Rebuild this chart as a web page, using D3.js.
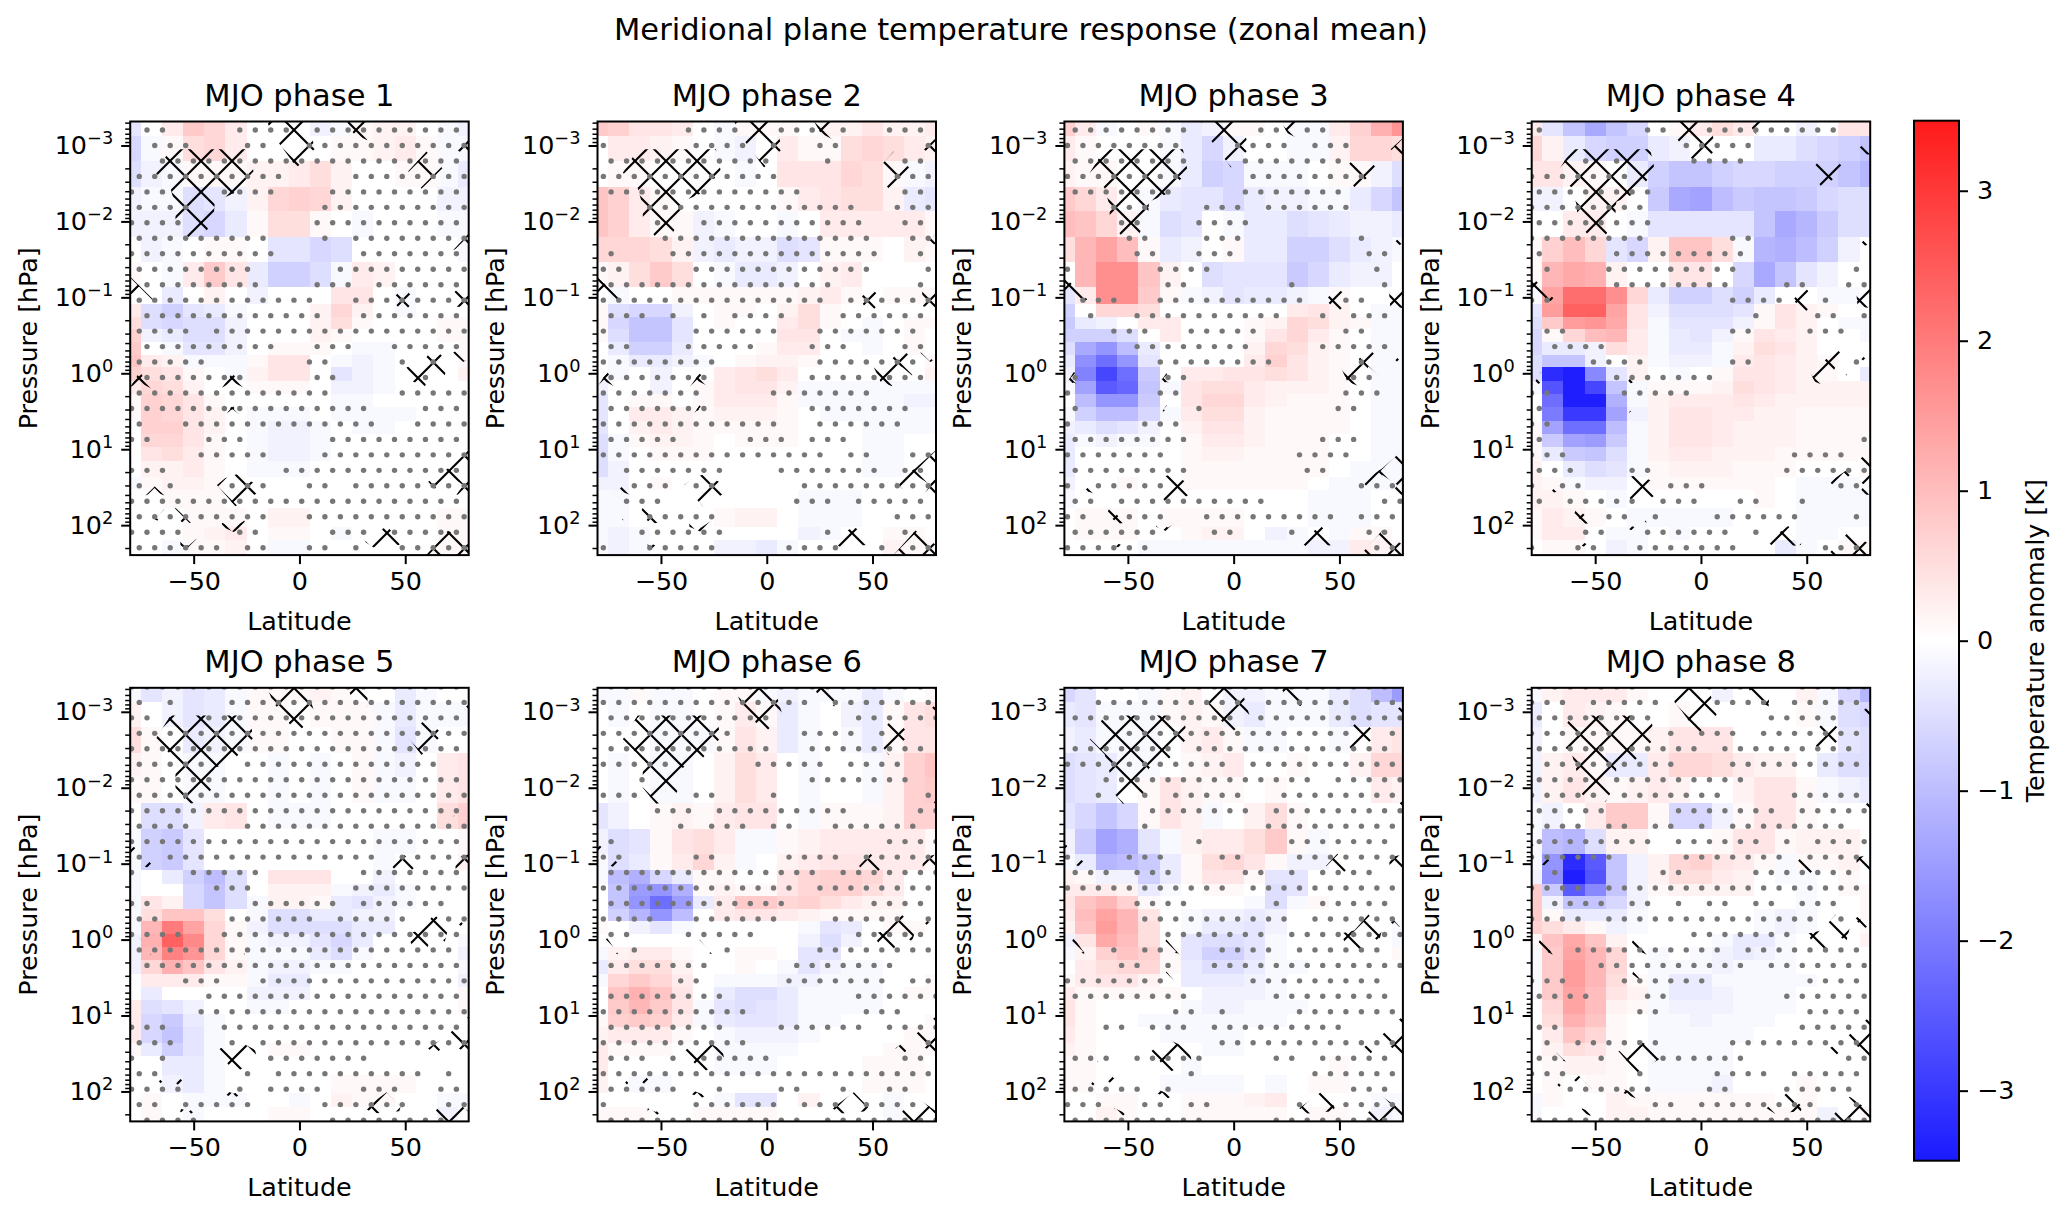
<!DOCTYPE html>
<html><head><meta charset="utf-8">
<script src="https://cdnjs.cloudflare.com/ajax/libs/d3/7.8.5/d3.min.js"></script>
<style>html,body{margin:0;background:#fff}svg{display:block}text{font-family:"DejaVu Sans";fill:#000}</style>
</head><body><svg id="c" width="2067" height="1213"></svg>
<script>
const phaseTitles=["MJO phase 1","MJO phase 2","MJO phase 3","MJO phase 4","MJO phase 5","MJO phase 6","MJO phase 7","MJO phase 8"];
const latEdges=[-80,-75,-65,-55,-45,-35,-25,-15,-5,5,15,25,35,45,55,65,75,80];
const pressureEdges=[4.83e-4,7.4e-4,1.58e-3,3.47e-3,7.26e-3,0.0158,0.0345,0.0736,0.122,0.183,0.264,0.391,0.574,0.836,1.25,1.87,2.81,4.22,6.31,9.46,14.2,23.1,34.6,60.3,105,158,248];
const majorP=[1e-3,1e-2,1e-1,1,10,100];
const latTicks=[-50,0,50];
const cbarTicks=[-3,-2,-1,0,1,2,3];
// temperature anomaly in tenths of a kelvin: rows top to bottom, columns south to north
const phase1=[
[-4,0,3,8,6,3,0,0,0,-2,-1,1,2,2,0,-1,-2],
[-6,-1,1,5,6,3,0,0,0,0,1,1,2,3,1,-1,-1],
[-5,-2,-1,1,1,1,2,2,3,5,2,0,0,1,1,-1,-3],
[-2,-1,-1,-5,-4,-2,2,6,7,6,2,0,0,0,0,-2,-2],
[-2,-2,-2,-5,-6,-3,1,5,5,1,0,-1,0,0,0,-1,-1],
[0,-2,-1,0,1,1,0,-4,-4,-6,-5,0,0,0,0,0,-1],
[1,0,-1,3,8,4,-3,-7,-7,-5,-1,3,2,0,0,0,0],
[0,0,-3,0,2,0,-2,0,0,0,4,4,0,-1,0,0,0],
[3,-5,-7,-4,-3,-1,0,0,0,2,6,2,0,-1,0,0,0],
[5,-5,-6,-5,-5,-2,0,0,0,2,5,1,0,0,0,1,1],
[7,-2,-3,-5,-5,-2,0,0,0,2,1,0,0,0,0,1,1],
[8,0,-1,-4,-4,-2,0,1,1,1,0,-1,-1,0,0,0,1],
[9,3,2,-1,-1,-1,1,4,4,0,-1,-2,-1,0,0,0,1],
[7,5,4,1,0,-1,2,4,4,0,-4,-2,-1,0,0,0,2],
[3,6,5,2,0,0,1,1,1,0,-2,-2,-1,0,0,0,0],
[1,7,6,4,1,0,0,0,0,0,-1,-1,0,0,0,0,0],
[1,7,6,4,2,0,-1,-1,-1,0,-1,-1,-1,-1,0,0,0],
[0,7,7,4,2,0,-1,-2,-2,-1,0,-1,-1,0,0,0,0],
[0,6,6,4,1,0,-1,-2,-2,-1,0,0,0,0,0,0,0],
[0,4,5,3,1,0,-1,-2,-2,-1,0,0,0,0,0,0,0],
[0,2,2,3,1,0,-1,-1,-1,0,0,0,0,0,0,0,0],
[-1,1,2,2,1,0,0,0,0,0,0,0,0,0,0,0,0],
[0,0,1,1,1,0,0,0,0,0,0,0,0,0,0,0,0],
[0,0,0,1,1,1,0,2,2,0,0,0,0,0,0,1,1],
[0,0,0,1,2,3,0,1,1,0,-1,0,0,0,0,1,1],
[0,0,-1,1,1,2,0,-1,-1,0,0,0,0,0,0,1,1]];
const phase2=[
[8,7,4,4,3,0,-1,1,1,1,0,2,2,4,2,2,3],
[0,3,3,2,1,0,-1,-2,0,3,1,1,5,6,5,3,2],
[0,1,1,0,0,0,0,-1,0,4,4,4,6,5,1,-1,-2],
[9,7,3,1,0,0,0,0,0,1,3,4,5,5,2,-3,-4],
[9,7,3,1,1,-2,-1,0,0,-1,0,3,3,3,3,3,1],
[6,6,6,5,2,-2,-3,-2,-2,-5,-4,1,1,1,0,2,1],
[1,2,5,8,5,0,-1,-3,-3,-2,0,2,3,0,0,0,0],
[0,-1,0,0,1,1,1,1,1,1,2,3,1,0,1,1,1],
[1,-5,-6,-6,-2,0,1,1,0,2,5,1,0,0,0,0,0],
[1,-6,-9,-9,-4,0,1,0,0,3,5,1,0,-1,0,1,1],
[1,-5,-9,-9,-4,0,0,0,0,4,4,0,-1,-1,0,1,0],
[0,-3,-7,-7,-3,0,0,0,1,3,3,0,0,-1,0,1,0],
[0,-1,-3,-3,-2,-1,0,1,2,2,1,0,0,0,0,0,1],
[0,-1,0,-2,0,0,3,4,5,3,0,0,0,0,0,0,2],
[-2,0,0,-2,0,1,3,4,4,2,-1,-1,-1,-1,-1,-1,-1],
[-4,0,1,1,0,1,3,3,3,1,-1,-1,-1,-1,-1,-2,-2],
[-4,0,3,3,2,1,2,2,2,1,0,-1,-1,-1,-1,-1,-1],
[-4,0,2,3,2,1,1,1,1,1,0,0,0,-1,-1,-1,-1],
[-5,-1,1,2,2,1,0,1,1,1,0,0,0,-1,-1,0,0],
[-5,-1,0,1,1,1,0,0,0,0,0,0,0,-1,-1,0,0],
[-5,-2,0,0,0,0,0,0,0,0,0,0,0,-1,-1,0,0],
[-2,-2,0,1,0,0,0,0,0,0,0,0,0,0,0,0,0],
[-1,-1,0,0,0,0,0,0,0,0,-1,-1,-1,0,0,0,0],
[-1,-1,0,0,0,0,1,2,2,0,-1,-1,-1,0,0,0,0],
[-1,-2,-1,0,0,0,0,0,0,0,-2,-1,0,0,1,1,0],
[-1,-2,-1,0,0,0,-2,-2,-3,-1,0,0,0,0,2,1,1]];
const phase3=[
[7,3,-1,0,1,-1,-3,-2,1,1,0,-1,-1,3,7,12,16],
[3,1,0,0,0,-1,-3,-6,-2,0,0,-1,-1,2,6,6,5],
[2,1,1,0,0,-1,-3,-7,-6,-1,-1,-1,0,1,1,-2,-5],
[8,6,3,0,-1,-3,-4,-4,-6,-3,-2,-2,-1,-1,-3,-6,-9],
[10,9,6,2,-1,-5,-4,0,-1,-3,-3,-5,-4,-3,-2,-2,-3],
[5,11,14,10,1,-3,-2,0,1,-3,-3,-7,-7,-5,-3,-2,-1],
[0,11,17,17,9,2,0,-5,-4,-4,-4,-8,-6,-3,-2,-2,0],
[-4,3,17,17,8,1,-1,-2,-4,-3,-3,-2,-1,1,0,0,0],
[-7,0,6,6,5,0,0,0,0,0,0,3,4,2,0,-1,-1],
[-8,-3,-2,0,3,3,0,0,0,1,2,6,5,2,1,-1,-1],
[-7,-7,-7,-5,0,3,0,0,0,1,4,6,3,1,0,-1,-1],
[-5,-13,-16,-10,-3,0,0,0,0,2,6,5,2,1,0,-1,-1],
[-3,-17,-22,-16,-4,0,0,0,0,3,7,4,2,1,0,-1,-1],
[-2,-19,-28,-22,-8,0,3,3,4,4,5,4,2,1,0,-1,-1],
[-1,-14,-25,-23,-9,-1,4,5,5,3,2,2,2,1,0,-1,-1],
[0,-10,-16,-16,-8,0,4,6,6,3,2,1,1,1,0,-1,-1],
[-1,-7,-10,-10,-6,-1,3,5,5,2,1,1,1,1,0,-1,-1],
[-2,-3,-5,-4,-2,0,2,4,4,2,1,1,1,1,0,-1,-1],
[-3,-1,-2,-1,-1,0,1,3,3,2,1,1,1,0,0,-1,-1],
[-3,0,0,0,0,0,1,2,2,1,1,1,1,0,0,-1,-1],
[-3,0,0,0,0,0,1,1,1,1,1,1,1,0,-1,-1,-1],
[-2,0,0,1,0,0,1,1,1,1,1,1,0,-1,-1,-1,-1],
[-1,0,0,0,0,0,0,0,0,0,0,0,-1,-1,-1,0,0],
[0,1,1,1,0,1,1,1,1,0,0,0,-1,-1,-1,0,0],
[0,1,1,1,0,0,1,2,2,0,-2,-1,0,-1,1,1,0],
[0,0,0,0,-1,-1,-1,-1,-1,-1,-1,-1,-2,-2,3,2,1]];
const phase4=[
[3,-4,-9,-13,-9,-6,0,1,3,5,3,0,0,-2,0,4,4],
[6,2,-3,-6,-7,-7,-3,-2,0,0,0,-3,-3,-5,-6,-7,-9],
[4,4,2,1,0,-3,-7,-9,-9,-7,-6,-6,-7,-7,-7,-9,-11],
[-2,-2,0,2,2,0,-8,-13,-14,-10,-8,-9,-9,-8,-6,-5,-5],
[0,0,3,3,0,-1,-4,-4,-4,-4,-4,-9,-13,-11,-8,-5,-5],
[1,7,10,6,-4,-6,2,9,9,5,-1,-11,-12,-10,-7,-2,0],
[1,11,13,12,2,0,0,4,4,0,-6,-13,-9,-4,-2,0,0],
[-1,14,22,22,17,6,-3,-7,-7,-5,-7,-3,0,0,-1,-1,0],
[-4,15,24,24,14,4,-2,-5,-5,-5,-4,1,4,2,1,0,0],
[-5,8,15,16,13,4,-1,-4,-4,-4,-2,1,4,2,0,-1,-1],
[-6,1,6,10,11,3,-1,-3,-4,-2,1,4,3,2,0,0,-1],
[-6,-3,-3,-2,5,3,-1,-3,-3,-1,2,5,4,2,0,0,0],
[-5,-9,-9,-2,0,2,-1,-2,-2,-1,3,4,3,2,1,0,0],
[-5,-32,-34,-18,-4,2,0,-1,0,1,4,4,3,2,1,0,-3],
[-1,-26,-34,-28,-9,-1,1,1,1,2,5,4,3,2,2,2,2],
[0,-22,-34,-34,-12,-1,2,3,3,3,4,3,2,2,2,2,2],
[0,-20,-30,-30,-14,-2,2,4,4,3,3,2,2,1,1,1,1],
[1,-14,-22,-22,-10,-1,2,4,4,3,2,2,2,1,1,1,1],
[1,-8,-14,-15,-8,-1,2,4,4,3,2,2,2,1,1,1,1],
[1,-3,-8,-9,-5,-1,2,3,3,2,2,2,1,1,1,1,1],
[2,0,-3,-5,-4,-1,1,2,2,2,1,1,1,0,0,0,1],
[2,1,-1,-2,-2,0,1,1,1,1,1,1,0,-1,-1,-1,0],
[2,2,1,0,-1,0,0,0,0,0,0,1,0,-1,-1,-1,-1],
[1,3,2,1,0,-1,-1,-1,-1,-1,0,0,0,-1,-1,-1,-1],
[1,3,3,0,-1,-1,0,-1,0,0,0,0,0,-1,-1,0,0],
[0,1,1,0,-2,-1,0,0,0,0,0,0,-3,-1,0,1,1]];
const phase5=[
[-1,-4,-2,-4,-3,-1,1,1,1,2,1,0,0,-3,-1,0,0],
[2,0,-2,-4,-3,-1,1,1,0,1,1,1,-1,-3,-1,-1,-1],
[5,1,0,-3,-2,-1,1,1,0,0,1,1,-1,-4,-1,0,0],
[2,1,0,-1,-1,0,0,-1,0,-1,0,1,-1,-2,0,3,4],
[1,1,0,-1,-1,0,0,-1,0,-1,0,1,-1,-1,0,3,4],
[0,-5,-5,-2,3,4,0,-1,-1,-1,0,0,0,0,0,5,7],
[-1,-7,-8,-4,0,0,0,0,0,0,0,0,-1,-1,0,0,1],
[-1,-7,-8,-4,0,0,0,0,0,0,0,0,-1,0,0,0,2],
[-1,0,-3,-7,-10,-5,0,4,4,4,0,0,-2,0,0,0,0],
[-1,0,0,-6,-9,-5,0,2,2,2,-1,-2,-3,-1,0,0,0],
[-1,4,2,-6,-9,-5,-1,2,2,1,-3,-4,-2,-1,0,0,0],
[-1,5,9,9,5,0,-1,-5,-5,-3,-3,-2,-2,0,0,0,0],
[-1,11,20,14,6,1,-2,-5,-5,-5,-5,-3,-3,0,0,0,0],
[-2,12,24,18,6,1,-1,-2,-2,-4,-6,-3,0,0,0,0,-1],
[-2,11,19,16,6,1,-1,-1,-1,-3,-5,-1,0,0,0,0,-2],
[-2,6,12,9,4,2,-1,-2,-2,-1,-1,0,0,0,0,0,-1],
[0,3,3,3,1,1,-1,-3,-3,0,0,0,0,0,0,0,-2],
[0,-3,0,0,0,0,-2,-2,-2,0,0,0,0,0,0,0,1],
[3,-5,-4,-2,0,0,-1,-1,0,0,0,0,0,0,0,0,1],
[3,-6,-8,-3,-1,0,0,0,0,0,0,0,0,0,0,0,0],
[3,-6,-9,-4,-1,0,0,0,0,0,0,0,0,0,0,0,0],
[1,-3,-7,-4,-1,0,0,1,1,0,0,0,0,0,0,0,0],
[0,0,-3,-3,-1,0,0,0,0,0,0,0,0,0,0,0,0],
[0,0,-2,-3,-1,0,0,0,0,0,1,1,1,1,0,0,0],
[0,1,0,-1,-1,-1,0,0,-1,0,2,1,1,0,0,-1,-1],
[0,1,0,-1,0,0,0,1,1,0,0,0,0,0,0,-2,0]];
const phase6=[
[-1,-1,1,-1,-1,0,1,1,-1,-2,-1,-1,-1,-3,-1,0,1],
[0,-1,0,-1,-1,0,1,3,1,-3,-1,0,-2,-3,1,4,5],
[0,0,0,-1,-1,-1,1,4,2,-3,-1,0,-1,-3,1,4,4],
[0,-1,0,-1,-1,0,2,5,3,0,-1,0,0,-1,2,7,9],
[0,-1,0,-1,-1,0,2,5,3,0,-1,0,0,-1,2,7,8],
[-4,-2,0,1,2,1,3,4,4,0,-1,1,1,1,2,7,7],
[-2,-5,-4,1,4,5,3,-1,-1,1,2,3,3,3,3,3,1],
[-1,-5,-3,1,3,6,2,-1,0,2,3,4,4,3,3,3,1],
[-1,-10,-12,-6,-3,1,1,0,0,4,6,7,7,6,3,0,0],
[0,-9,-15,-16,-12,1,2,1,1,4,6,7,7,5,3,0,0],
[0,-9,-16,-22,-15,-3,3,8,8,6,7,5,3,2,2,0,0],
[0,-7,-11,-16,-10,0,3,4,4,3,2,1,1,1,1,0,0],
[1,0,-2,-4,-1,0,0,0,0,0,-1,-4,-3,0,1,1,0],
[0,0,0,0,0,0,0,0,0,0,-2,-5,-2,0,0,0,0],
[-1,2,3,3,1,0,0,1,1,0,-4,-4,0,0,0,0,0],
[-3,3,5,5,2,0,0,1,0,-1,-4,-2,-1,-1,0,0,0],
[-1,6,8,6,3,0,-1,-1,-1,-2,-2,-1,-1,-1,0,0,1],
[0,9,12,9,4,0,-3,-5,-5,-3,-1,-1,-1,-1,0,1,1],
[0,8,11,8,4,-1,-4,-5,-4,-3,-1,-1,-1,-1,0,0,0],
[1,7,8,7,3,-1,-3,-4,-4,-3,-1,-1,0,0,0,0,1],
[2,3,3,3,1,0,-1,-2,-2,-2,-1,0,0,0,0,1,1],
[3,1,1,1,0,0,-1,-1,-1,-1,0,0,0,0,1,1,1],
[3,0,0,0,0,0,-1,-1,-1,0,0,0,0,1,1,1,0],
[2,0,-1,-1,0,0,0,0,0,0,0,0,0,1,1,1,0],
[0,0,0,0,0,0,-1,-4,-4,0,2,0,0,0,-1,0,0],
[1,1,1,0,0,1,1,1,1,0,0,0,0,0,-1,0,0]];
const phase7=[
[-6,-4,0,0,-1,1,2,0,-2,-2,-1,-1,-1,-3,-5,-10,-15],
[-3,-4,-1,-1,-1,1,2,1,-2,-3,-1,-1,-1,-3,-5,-4,-4],
[-2,-3,-1,-1,-1,0,2,3,1,-1,-1,0,0,-1,0,3,4],
[-5,-4,-3,-1,-1,0,1,2,3,0,0,1,0,0,2,6,6],
[-5,-4,-3,0,1,4,2,1,1,0,1,0,0,0,0,3,2],
[-4,-6,-9,-6,1,4,2,-1,0,2,5,1,0,0,0,0,0],
[-2,-8,-14,-12,-4,-1,2,3,3,5,8,1,-1,0,0,0,0],
[-1,-3,-11,-10,-8,-3,1,5,6,4,1,-2,-2,0,0,0,0],
[2,1,-2,-2,-7,-3,1,4,4,1,-4,-4,0,0,0,0,0],
[3,3,3,2,-3,-1,0,1,1,0,-5,-4,0,0,0,0,0],
[4,9,11,7,1,0,0,0,0,-1,-5,-1,1,0,0,0,0],
[3,10,14,11,4,0,-1,-2,-2,-3,-2,0,0,0,0,0,0],
[2,9,15,11,5,0,-1,-3,-3,-4,-2,0,0,0,0,0,-1],
[-2,4,13,10,5,0,-4,-5,-5,-4,-1,0,0,0,0,0,-1],
[-1,2,7,9,7,1,-4,-7,-7,-4,-1,0,0,0,0,0,1],
[0,3,5,6,6,1,-3,-5,-5,-3,-1,-1,0,0,0,0,0],
[1,3,4,4,2,0,-3,-3,-3,-2,-1,0,0,0,0,0,0],
[3,1,1,1,1,1,0,-2,-2,-2,-1,0,0,0,0,0,0],
[4,1,0,0,0,0,-1,-2,-2,-1,-1,-1,0,0,0,0,0],
[4,1,0,0,-1,-1,-1,-1,-1,-1,-1,0,0,0,0,0,0],
[3,1,0,0,0,-1,-1,-1,-1,0,0,0,0,0,0,0,0],
[2,1,0,0,0,0,0,-1,-1,0,0,0,0,0,0,0,0],
[1,1,0,0,0,0,-1,0,0,0,0,0,0,1,0,0,0],
[1,1,0,0,0,-1,-1,-1,-1,0,-1,0,1,1,0,0,0],
[0,0,1,1,0,0,1,1,1,2,3,0,0,0,0,-1,-1],
[0,0,2,1,0,0,1,1,1,1,1,0,1,1,0,-2,-1]];
const phase8=[
[-1,2,3,3,3,1,0,0,0,-2,0,0,0,2,-1,-6,-11],
[-3,0,3,2,1,0,0,1,0,0,0,0,0,1,-1,-5,-6],
[-2,0,1,1,1,1,2,4,4,4,0,0,0,0,0,-4,-5],
[-2,2,3,1,-3,-3,3,6,6,5,3,2,2,0,-3,-5,-5],
[-2,2,4,2,1,2,3,2,0,0,2,4,4,1,-1,-2,-3],
[-1,-2,0,3,8,8,1,-6,-6,-2,1,4,4,1,0,0,0],
[-1,-10,-11,-5,2,2,0,0,0,1,4,4,1,2,2,2,0],
[-1,-16,-32,-25,-9,-2,2,6,7,4,3,1,-1,1,1,2,0],
[-2,-17,-34,-26,-9,-2,2,5,5,3,2,0,-1,-1,0,1,0],
[8,-8,-25,-18,-9,-2,1,2,2,2,2,0,0,-1,0,1,1],
[8,-2,-9,-9,-6,-2,0,0,0,0,0,0,0,-1,0,0,1],
[8,1,-3,-3,-3,-1,0,0,0,0,0,-1,-2,-1,0,0,1],
[7,5,3,1,-2,-1,0,0,0,0,0,-1,-2,-1,0,0,1],
[1,9,13,9,2,0,0,0,0,-1,-3,-3,-1,0,0,0,2],
[-1,8,14,11,6,0,-1,0,-1,-2,-3,-2,-1,0,0,0,0],
[-1,8,15,11,6,0,-1,-1,-1,-2,-1,-1,-1,0,0,0,0],
[-1,8,15,11,5,1,-1,-3,-3,-1,-1,-1,-1,-1,0,0,0],
[-1,8,14,10,4,2,-1,-3,-3,-2,-1,-1,-1,0,0,0,0],
[0,6,14,10,2,1,-1,-2,-2,-2,-1,-1,-1,0,0,0,0],
[0,5,12,9,1,0,-1,-1,-2,-1,-1,-1,0,0,0,0,0],
[0,3,9,6,1,0,-1,-1,-1,-1,-1,0,0,0,0,0,0],
[0,2,5,4,1,0,-1,-1,-1,-1,0,0,0,0,0,0,0],
[0,1,2,2,1,0,-1,-1,-1,-1,0,0,0,0,0,0,0],
[0,1,0,1,1,0,-1,-1,-1,-2,0,0,0,1,0,0,0],
[-1,1,0,0,2,1,1,1,1,1,1,1,0,1,0,0,0],
[-1,0,0,0,2,2,1,1,1,1,1,1,1,1,-2,0,1]];
// stipple lattice: '.' = not significant (dot), '_' = significant (no dot); one string per stipple row
const stipple1=["_..____...._..........","_...___..__...........","__....................","..........____........","...___....___.........","....________..........","....________..........",".........___._........",".........._____......."," ........_____.........".trim(),"_........___..._......","............__........","_............__.......","...._.................","_.........__...__.....",".....______..____._.__","_.......____.._____.__",".............____.....","................___...",".__.............__....","..___..._____.........","____.....___..........","..._______............","._.___...__.._........","......................",".........__...........","....___..____..._.....","......_..__.._.__....."];
const stipple2=["_____....__..._.__...","._____...._.__.._____.","...........___.____..","............_______...",".............______..","___..............__...","___.__...........__..","____..............__..",".___..............__.","..____............___.","..............._____.","..............._......","..._._._....___......","._____......__......._","..___.....___...___..","........______......._",".......______........_"," .......____.......___".trim(),".......______.......__","............__......__",".....____..._...____","..............._..__...","_.......___......._..","__..._.._____.........","_...________..._.....","___.....___________...","__......______.____._","...____​".slice(0,0)+".__.....____....__._.."];
const stipple3=["........____.._..____","........___...._...___","........___.......___","........____........__",".......____.......__","___...___..._......___","___..___...._________","____..___..._______._","____..__...________..","._____....__________.","______..______._____.","_..._ _..........__..__.".replace(" ",""),"_.__..........__._...","___...__....._____..__.".slice(0,22),"____........____.....","______........_____.__","._____..__________.._","._____..__________..._","._______.________.._","._____..............._".slice(0,5)+"...______________","........________..._","....... ________....___".replace(" ",""),"........_______..____","._....._ ___________...".replace(" ",""),".._.........._______..","..__...__........._....","......___..___.____..","......______________.."];
const stipple4=[".______..__.........__","__________....._______","___._.____....________","......._______________","........______________","........______________","........______________","........_____..___​____".replace(/\u200b/g,""),".____.........________","_.___........._______.","_____........___..__..","..___________....__.","______________.___.._.","_..__________..___...","_...._________________","____...._____..______.","_____.......__________","..____.....___________",".______________________".slice(0,22),"..____________________",".____________________.","...______________....","...___..________......","._.._____...________..","._....._...__..__.______".slice(0,22),"_____.._.___......___.","___..__......_._______.".slice(0,22),".__..__......._____..."];
const stipple5=["......................","._.___................","..___.................","......................","......................",".....__.............__","......................","......................","......................","...._ __...............".replace(" ",""),"......................","._.............._.....",".___.....______.......","_____...______........","..______......_......_","..____......_.....__..","....__................",".....................","_.....................","___...__..............","_____.................","____..................","...___................","...___._..............","._.______.......______",".._____._.........._.","....___._....__...__.".slice(0,21)+".",".._.....____......__..","_....________........_"];
const stipple6=["......................",".............._.......","..........._____......",".........____...._.____".slice(0,22),"...........__........","....._____....._....___".slice(0,22),"__.__________.......__","...___..___._________._".slice(0,22),"___..._.........____..","_____._..._..__......_","._________________....","..____..____...._.....",".............._.......","............._........","............_____....","....__......___....._.".slice(0,22),"..___.....______.....","__._____._____........".slice(0,22),"......._____.......___".slice(0,21),"_____.._____......._..".slice(0,22),"........________......",".........._______...".slice(0,20)+"__","........___......_....","..........___________.","..._._.....________..","......................",".....__.___..__.__..","._____......_..._....","............._........"];
const stipple7=[".....................","__.........._......_..","..........._..........","____...............__.","......._.............","..........._.........._".slice(0,22),"__.............._.....","__.__._.....__.........".slice(0,22),"_____......._.........","_____._______.........".slice(0,22),"________._____.......",".___...___..___.......","..._...____.._._....","..........._...........".slice(0,22),"____...._____.__.......".slice(0,21),"_____.........._......","______......._........".slice(0,22),"___._..___...._......","___.._.__..............".slice(0,22),"......._____...........".slice(0,21),"........_____........","_______.._.____.......".slice(0,22),"__.._..._.........","__________..........".slice(0,20)+"..","..._.....____.._.....","________._______.......".slice(0,22),"....._.___________.....".slice(0,21),"...__.._.._____.__....",".........____........"];
const stipple8=[".......____...___......","..._.....___...._.....","........_______.....__","......___._..._.......","....._....._.........","_.........___..........","...._.........______","....._.......____.....",".....____......._.....","...._.._.._._........","........_......_._....","......____......._....","_.______..____.......","...._.................","_...._.._._.._.._..._".slice(0,22),"...._.............._.","__________.......______".slice(0,22),"___.........._........","____.........._.......","...___......______....","....___.._______......","_______.._________....",".._______________.....","_._......____.........","..__.___......______...","...____.____...._.....","__......___..___.....","________.._........__.","......................"];
// regions of the second hatch (x), as [latitude, log10 pressure] outlines
const hatchRegions=[
[[-68,-2.64],[-61,-2.95],[-24,-2.95],[-21.7,-2.66],[-31,-2.37],[-40,-2.26],[-40.6,-2.04],[-45,-1.82],[-52.4,-1.79],[-58.6,-2],[-58.6,-2.2],[-61,-2.44]],
[[-15.4,-3.32],[3.5,-3.32],[7.4,-2.96],[-1.3,-2.71],[-9.1,-3.01],[-12.3,-3.12]],
[[22.3,-3.32],[32.5,-3.32],[32,-3.07],[25.5,-3.16]],
[[51.4,-2.66],[60,-2.92],[67.6,-2.7],[57.7,-2.43]],
[[74.2,-2.95],[80,-3.1],[80,-2.88],[77.4,-2.88]],
[[72.6,-1.62],[80,-1.84],[80,-1.71]],
[[43.6,-0.97],[49,-1.13],[55,-0.97],[49,-0.8]],
[[73.4,-1.08],[80,-1.12],[80,-0.86],[74,-0.88]],
[[-80,-1.27],[-69,-0.97],[-72,-0.95],[-80,-1.05]],
[[-80,0.18],[-75.5,-0.02],[-70,0.2],[-75.5,0.12]],
[[-36.6,0.19],[-31.8,0],[-25.6,0.2],[-31.8,0.11]],
[[-34.3,0.53],[-31.8,0.42],[-28,0.55],[-31.8,0.47]],
[[50.6,-0.08],[57,-0.12],[63.7,-0.33],[70.3,-0.15],[68.7,0.03],[63.7,-0.09],[59.3,0.17],[53.8,0.11]],
[[72.6,-0.27],[74.2,-0.3],[78.5,-0.17],[77.4,-0.15]],
[[60.8,1.43],[70.3,1.25],[80,1.01],[80,1.6],[74.2,1.6],[77.4,1.47],[70.3,1.34],[64,1.52]],
[[-39,1.47],[-35,1.38],[-29.6,1.33],[-21,1.45],[-20,1.58],[-30.3,1.75]],
[[-72.8,1.61],[-68.4,1.49],[-63.8,1.61],[-68.4,1.56]],
[[-58.6,1.77],[-51.3,1.97],[-54.7,1.98],[-60,1.85]],
[[-68.4,1.93],[-64,1.79],[-63.4,1.82],[-67,1.94]],
[[-36.6,1.97],[-31,2.03],[-26,1.94],[-25.6,2],[-31,2.09],[-36.6,2.02]],
[[-56.3,2.22],[-52.4,2.27],[-48.7,2.18],[-48,2.22],[-52.4,2.32],[-56.3,2.27]],
[[31,2.22],[41.2,2.01],[47.8,2.2],[47.2,2.26],[34.9,2.29]],
[[59.7,2.4],[70.3,2.07],[80,2.26],[80,2.4]]];

const allPhases=[phase1,phase2,phase3,phase4,phase5,phase6,phase7,phase8];
const allStipples=[stipple1,stipple2,stipple3,stipple4,stipple5,stipple6,stipple7,stipple8];
const W=338.5,H=433.6,lefts=[130.2,597.5,1064.4,1531.7],tops=[121.5,687.8];
const vmax=3.467;
const color=d3.scaleLinear().domain([-vmax,0,vmax]).range(["#1a1aff","#ffffff","#ff1a1a"]).clamp(true);
const FS=25.4;
const svg=d3.select("#c");
const defs=svg.append("defs");
svg.append("text").attr("x",1021).attr("y",40).attr("text-anchor","middle").attr("font-size",30.5).text("Meridional plane temperature response (zonal mean)");
const DOT=15.47, HATCH=31;
allPhases.forEach((vals,idx)=>{
  const row=idx<4?0:1,col=idx%4,L=lefts[col],T=tops[row];
  const x=d3.scaleLinear().domain([-80,80]).range([L,L+W]);
  const y=d3.scaleLog().domain([4.83e-4,248]).range([T,T+H]);
  const g=svg.append("g");
  vals.forEach((r,i)=>r.forEach((v,j)=>{
    g.append("rect").attr("x",x(latEdges[j])).attr("y",y(pressureEdges[i]))
     .attr("width",x(latEdges[j+1])-x(latEdges[j])).attr("height",y(pressureEdges[i+1])-y(pressureEdges[i]))
     .attr("fill",color(v/10)).attr("shape-rendering","crispEdges");
  }));
  defs.append("clipPath").attr("id","ax"+idx).append("rect").attr("x",L).attr("y",T).attr("width",W).attr("height",H);
  const hc=defs.append("clipPath").attr("id","hc"+idx);
  hatchRegions.forEach(poly=>hc.append("polygon").attr("points",poly.map(p=>x(p[0])+","+y(Math.pow(10,p[1]))).join(" ")));
  const outer=svg.append("g").attr("clip-path","url(#ax"+idx+")");
  const hg=outer.append("g").attr("clip-path","url(#hc"+idx+")").attr("stroke","#000").attr("stroke-width",2.1);
  const yT=T-5,yB=T+H+5;
  for(let n=-80;n<80;n++){
    const c=9+HATCH*n;
    if(c+yB>L-10&&c+yT<L+W+10) hg.append("line").attr("x1",c+yT).attr("y1",yT).attr("x2",c+yB).attr("y2",yB);
  }
  for(let n=-20;n<120;n++){
    const d=331+HATCH*n;
    if(d-yT>L-10&&d-yB<L+W+10) hg.append("line").attr("x1",d-yT).attr("y1",yT).attr("x2",d-yB).attr("y2",yB);
  }
  const dg=outer.append("g").attr("fill","#777");
  const base=row===0?0:36;
  allStipples[idx].forEach((s,i)=>{
    const k=base+i,py=130+DOT*k;
    const off=k%2?-DOT/2:0;
    const first=Math.ceil((L-1-147-off)/DOT);
    for(let m=0;m<s.length;m++){
      const px=147+off+DOT*(first+m);
      if(s[m]==="."&&px<L+W+2) dg.append("circle").attr("cx",px).attr("cy",py).attr("r",2.7);
    }
  });
  // axes
  const xA=svg.append("g").attr("transform","translate(0,"+(T+H)+")")
    .call(d3.axisBottom(x).tickValues(latTicks).tickSize(9).tickPadding(8).tickSizeOuter(0));
  const minors=[];
  for(let e=-4;e<=2;e++)for(let m=2;m<=9;m++){const p=m*Math.pow(10,e);if(p>4.83e-4&&p<248)minors.push(p);}
  [1e-3,1e-2,1e-1,1,10,100];
  const yM=svg.append("g").attr("transform","translate("+L+",0)")
    .call(d3.axisLeft(y).tickValues(minors).tickSize(5).tickFormat("").tickSizeOuter(0));
  const yA=svg.append("g").attr("transform","translate("+L+",0)")
    .call(d3.axisLeft(y).tickValues(majorP).tickSize(9).tickPadding(8).tickFormat("").tickSizeOuter(0));
  yA.selectAll(".tick text").each(function(d){
    const t=d3.select(this),ex=Math.round(Math.log10(d));
    t.text(null);
    t.append("tspan").text("10");
    t.append("tspan").attr("font-size",FS*0.7).attr("dy","-0.55em").text((ex<0?"\u2212":"")+Math.abs(ex));
  });
  [xA,yA,yM].forEach(a=>{a.attr("font-family",null).attr("font-size",FS);a.selectAll("text").style("font-family",'"DejaVu Sans"');a.select(".domain").remove();a.selectAll("line").attr("stroke-width",2);});
  yM.selectAll("line").attr("stroke-width",1.5);
  svg.append("rect").attr("x",L).attr("y",T).attr("width",W).attr("height",H).attr("fill","none").attr("stroke","#000").attr("stroke-width",2);
  svg.append("text").attr("x",L+W/2).attr("y",T-16).attr("text-anchor","middle").attr("font-size",30.5).text(phaseTitles[idx]);
  svg.append("text").attr("x",L+W/2).attr("y",T+H+75).attr("text-anchor","middle").attr("font-size",FS).text("Latitude");
  svg.append("text").attr("transform","translate("+(L-102)+","+(T+H/2)+") rotate(-90)").attr("dy","0.35em").attr("text-anchor","middle").attr("font-size",FS).text("Pressure [hPa]");
});
// colorbar
const cb={x:1914,y:120.7,w:45,h:1040};
const grad=defs.append("linearGradient").attr("id","cbg").attr("x1",0).attr("x2",0).attr("y1",1).attr("y2",0);
[[0,-vmax],[.5,0],[1,vmax]].forEach(s=>grad.append("stop").attr("offset",s[0]).attr("stop-color",color(s[1])));
svg.append("rect").attr("x",cb.x).attr("y",cb.y).attr("width",cb.w).attr("height",cb.h).attr("fill","url(#cbg)").attr("stroke","#000").attr("stroke-width",2);
const cy=d3.scaleLinear().domain([-vmax,vmax]).range([cb.y+cb.h,cb.y]);
const cA=svg.append("g").attr("transform","translate("+(cb.x+cb.w)+",0)")
  .call(d3.axisRight(cy).tickValues(cbarTicks).tickSize(9).tickPadding(9).tickFormat(d3.format("d")).tickSizeOuter(0));
cA.attr("font-size",FS);cA.selectAll("text").style("font-family",'"DejaVu Sans"');cA.select(".domain").remove();cA.selectAll("line").attr("stroke-width",2);
svg.append("text").attr("transform","translate(2035,640.7) rotate(-90)").attr("dy","0.35em").attr("text-anchor","middle").attr("font-size",FS).text("Temperature anomaly [K]");
</script></body></html>
